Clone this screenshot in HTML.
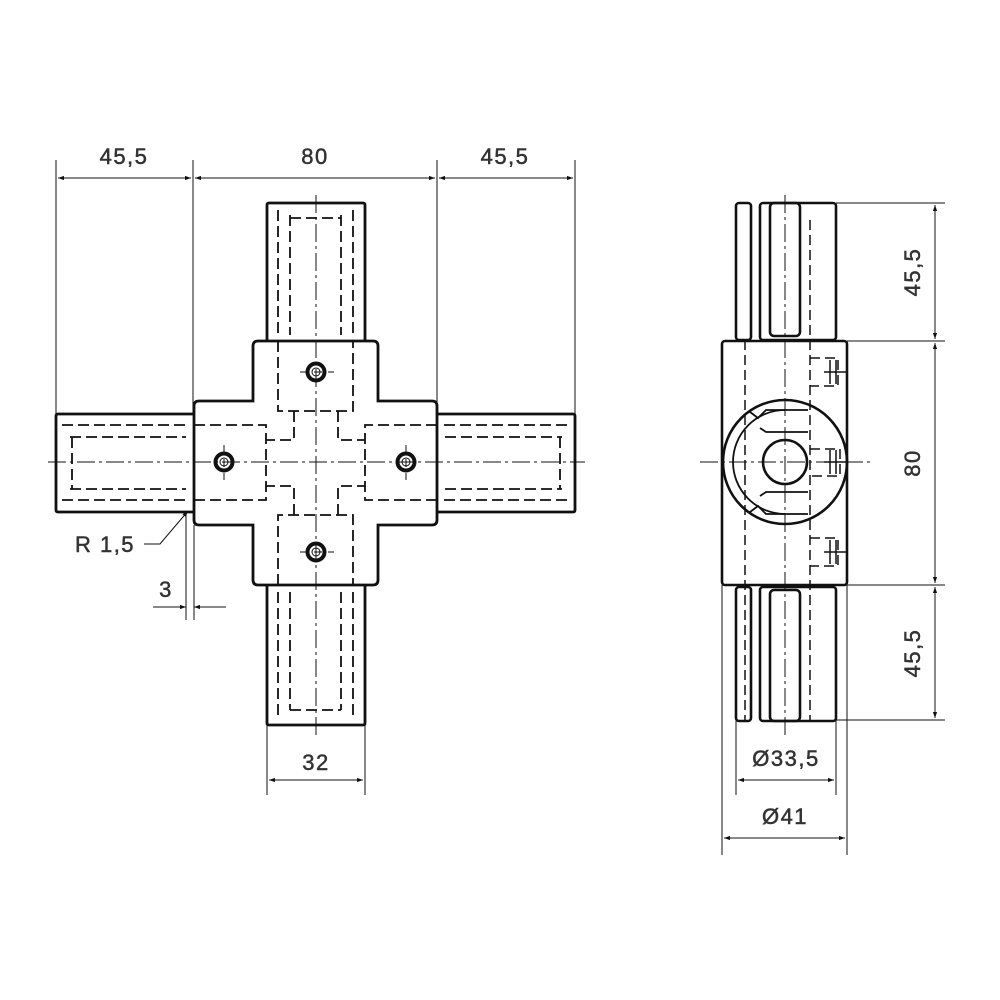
<!DOCTYPE html>
<html><head><meta charset="utf-8"><style>
html,body{margin:0;padding:0;background:#fff}
svg{display:block}
text{font-family:"Liberation Sans",sans-serif;fill:#333;font-size:22px;letter-spacing:1.5px;stroke:#333;stroke-width:0.5}
</style></head><body>
<svg width="1000" height="1000" viewBox="0 0 1000 1000" xmlns="http://www.w3.org/2000/svg">
<defs>
<marker id="a" viewBox="0 0 10 10" refX="10" refY="5" markerWidth="14" markerHeight="6" orient="auto-start-reverse" markerUnits="userSpaceOnUse"><path d="M0,1.5 L10,5 L0,8.5z" fill="#111"/></marker>
</defs>
<g fill="none" stroke="#111">
<g stroke-width="2.8">
<path d="M253,401 V346 q0,-5 5,-5 H373 q5,0 5,5 V401 H432 q5,0 5,5 V520 q0,5 -5,5 H378 V580 q0,5 -5,5 H258 q-5,0 -5,-5 V525 H199 q-5,0 -5,-5 V406 q0,-5 5,-5z"/>
<path d="M267,341 V205 q0,-2 2,-2 H363 q2,0 2,2 V341"/>
<path d="M267,585 V723 q0,2 2,2 H363 q2,0 2,-2 V585"/>
<path d="M194,414 H58 q-2,0 -2,2 V510 q0,2 2,2 H194"/>
<path d="M437,414 H573 q2,0 2,2 V510 q0,2 -2,2 H437"/>
</g>
<g stroke-width="1.8" stroke-dasharray="11,5">
<path d="M278,341 V411 H353 V341"/><path d="M278,585 V515 H353 V585"/>
<path d="M194,425 H266 V500 H194"/><path d="M437,425 H365 V500 H437"/>
<path d="M294,411 V440 H266 M338,411 V440 H365 M294,515 V486 H266 M338,515 V486 H365"/>
<path d="M278,210 V335 M290,215 V335 M353,210 V335 M341,215 V335 M290,218 H341"/>
<path d="M278,592 V718 M290,592 V710 M353,592 V718 M341,592 V710 M290,710 H341"/>
<path d="M62,425 H187 M70,437 H186 M62,500 H187 M70,489 H186 M72,437 V489"/>
<path d="M444,425 H569 M445,437 H562 M444,500 H569 M445,489 H562 M560,437 V489"/>
</g>
<g stroke-width="1" stroke-dasharray="18,4,3,4">
<path d="M48,462 H585 M316,195 V735"/>
<path d="M700,462 H870 M785,195 V735"/>
</g>
<g stroke-width="1" stroke-dasharray="8,6"><path d="M300,372 H334 M300,552 H334 M224,445 V480 M406,445 V480"/></g>
<g stroke-width="4"><circle cx="316" cy="372" r="8.5"/><circle cx="316" cy="552" r="8.5"/><circle cx="224" cy="462" r="8.5"/><circle cx="406" cy="462" r="8.5"/></g>
<g stroke-width="1"><circle cx="316" cy="372" r="4"/><circle cx="316" cy="552" r="4"/><circle cx="224" cy="462" r="4"/><circle cx="406" cy="462" r="4"/></g>
<g stroke-width="2.6">
<rect x="722" y="341" width="125" height="244" rx="3"/>
<rect x="736" y="203" width="15" height="137" rx="3"/><rect x="760" y="203" width="76" height="137" rx="3"/>
<rect x="770" y="203" width="30" height="133" rx="4"/>
<rect x="736" y="587" width="15" height="134" rx="3"/><rect x="760" y="587" width="76" height="134" rx="3"/>
<rect x="770" y="590" width="30" height="131" rx="4"/>
<circle cx="785" cy="462" r="62"/><circle cx="785" cy="462" r="22"/>
<path d="M785,410 A52,52 0 1,0 785,514" stroke-width="1.8"/>
<path d="M808,410 H766 L758,418 L750,412 M808,432 H766 L760,428 M808,514 H766 L758,506 L750,512 M808,492 H766 L760,496" stroke-width="1.8"/>
</g>
<g stroke-width="1.5" stroke-dasharray="10,5"><path d="M745,340 V720 M810,220 V720"/><path d="M810,358 H838 V386 H810 M810,538 H838 V566 H810 M810,449 H840 V476 H810"/></g>
<g stroke-width="1.5"><path d="M830,360 V384 M836,360 V384 M830,540 V564 M836,540 V564 M830,450 V474 M836,450 V474 M824,372 H846 M824,552 H846 M824,462 H846"/></g>
<g stroke-width="1">
<path d="M56,160 V414 M193,160 V414 M437,160 V414 M575,160 V414"/>
<path d="M58,178 H191" marker-start="url(#a)" marker-end="url(#a)"/>
<path d="M195,178 H435" marker-start="url(#a)" marker-end="url(#a)"/>
<path d="M439,178 H573" marker-start="url(#a)" marker-end="url(#a)"/>
<path d="M836,203 H945 M847,341 H945 M847,585 H945 M836,720 H945"/>
<path d="M935,205 V339" marker-start="url(#a)" marker-end="url(#a)"/>
<path d="M935,343 V583" marker-start="url(#a)" marker-end="url(#a)"/>
<path d="M935,587 V718" marker-start="url(#a)" marker-end="url(#a)"/>
<path d="M267,725 V795 M365,725 V795"/>
<path d="M269,780 H363" marker-start="url(#a)" marker-end="url(#a)"/>
<path d="M736,720 V795 M836,720 V795 M722,585 V855 M847,585 V855"/>
<path d="M738,780 H834" marker-start="url(#a)" marker-end="url(#a)"/>
<path d="M724,838 H845" marker-start="url(#a)" marker-end="url(#a)"/>
<path d="M186,512 V620 M194,525 V620"/>
<path d="M153,607 H186" marker-end="url(#a)"/><path d="M226,607 H194" marker-end="url(#a)"/>
<path d="M144,544 H160 L188,511" marker-end="url(#a)"/>
</g>
</g>
<text x="124" y="164" text-anchor="middle">45,5</text>
<text x="315" y="164" text-anchor="middle">80</text>
<text x="505" y="164" text-anchor="middle">45,5</text>
<text x="316" y="770" text-anchor="middle">32</text>
<text x="786" y="766" text-anchor="middle">Ø33,5</text>
<text x="785" y="824" text-anchor="middle">Ø41</text>
<text x="105" y="552" text-anchor="middle">R 1,5</text>
<text x="166" y="597" text-anchor="middle">3</text>
<text transform="translate(920,272) rotate(-90)" text-anchor="middle">45,5</text>
<text transform="translate(920,463) rotate(-90)" text-anchor="middle">80</text>
<text transform="translate(920,653) rotate(-90)" text-anchor="middle">45,5</text>
</svg>
</body></html>
